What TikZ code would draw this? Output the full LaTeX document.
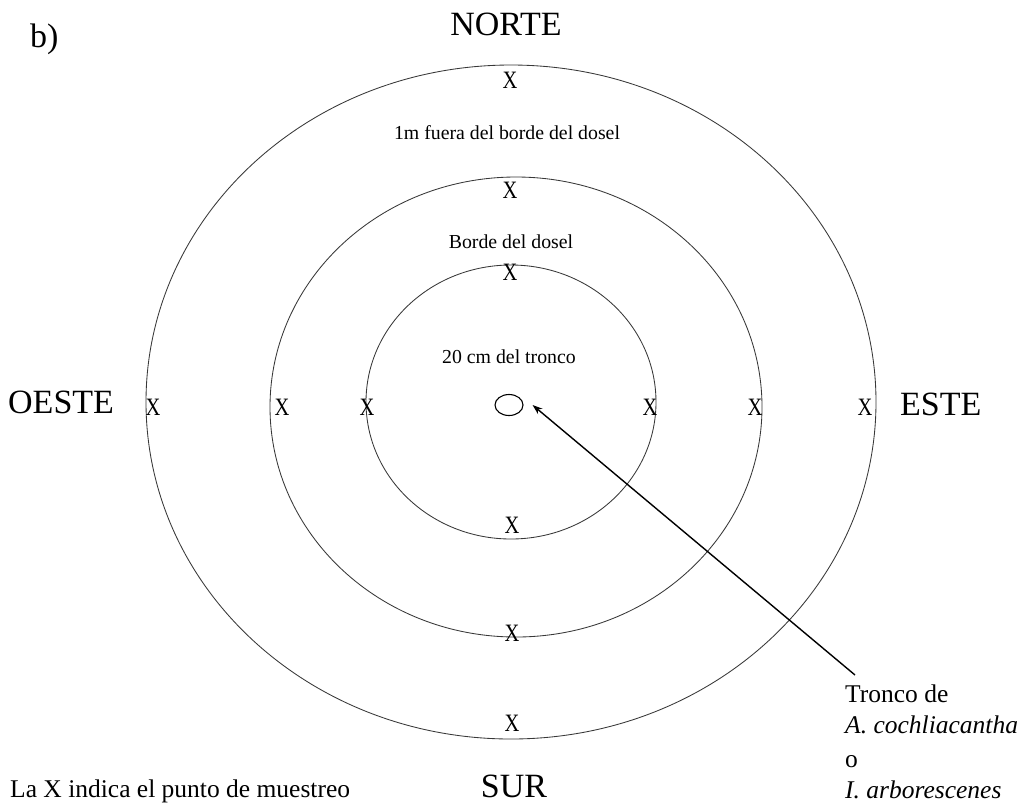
\documentclass[tikz,border=0pt]{standalone}
\usepackage{fontspec}
\usepackage{graphicx}
\setmainfont{Liberation Serif}
\usetikzlibrary{arrows.meta,shapes.geometric}
\newcommand{\xmk}{\scalebox{0.82}[1]{X}}
\begin{document}
\begin{tikzpicture}[x=1pt,y=-1pt,
  big/.style={font=\fontsize{34}{38}\selectfont, inner sep=0pt},
  small/.style={font=\fontsize{19.8}{22}\selectfont, inner sep=0pt},
  note/.style={font=\fontsize{25.5}{30}\selectfont, inner sep=0pt, anchor=base west},
  xm/.style={font=\fontsize{25}{28}\selectfont, inner sep=0pt},
  ring/.style={draw=black!78, line width=0.85pt}]
\useasboundingbox (0,0) rectangle (1025,807);
\fill[white] (0,0) rectangle (1025,807);
% rings
\coordinate (c1) at (511,402);
\coordinate (c2) at (516,407);
\coordinate (c3) at (511,402);
\draw[ring] (c1) ellipse [x radius=365, y radius=337];
\draw[ring] (c2) ellipse [x radius=246, y radius=230];
\draw[ring] (c3) ellipse [x radius=145, y radius=137];
% trunk
\node[ellipse, draw, line width=1.1pt, minimum width=28pt, minimum height=21pt, inner sep=0pt] (tronco) at (509,405) {};
% titles
\node[big, anchor=base west] (b) at (30,47) {b)};
\node[big, anchor=base] (n) at (506,35) {NORTE};
\node[big, anchor=base west] (w) at (8,413) {OESTE};
\node[big, anchor=base west] (e) at (900,415) {ESTE};
\node[big, anchor=base] (s) at (514,797) {SUR};
% labels
\node[small] (l1) at (507,133) {1m fuera del borde del dosel};
\node[small] (l2) at (511,242) {Borde del dosel};
\node[small] (l3) at (509,357) {20 cm del tronco};
\node[note] (leg) at (10,797) {La X indica el punto de muestreo};
\node[note] (t1) at (845,702) {Tronco de};
\node[note] (t2) at (845,733) {\textit{A. cochliacantha}};
\node[note] (t3) at (845,767) {o};
\node[note] (t4) at (845,798) {\textit{I. arborescenes}};
% sample points
\node[xm] (xn1) at (510,80) {\xmk};
\node[xm] (xn2) at (510,190) {\xmk};
\node[xm] (xn3) at (510,272) {\xmk};
\node[xm] (xs1) at (512,525) {\xmk};
\node[xm] (xs2) at (512,633) {\xmk};
\node[xm] (xs3) at (512,723) {\xmk};
\node[xm] (xw1) at (153,407) {\xmk};
\node[xm] (xw2) at (282,407) {\xmk};
\node[xm] (xw3) at (367,407) {\xmk};
\node[xm] (xe1) at (650,407) {\xmk};
\node[xm] (xe2) at (755,407) {\xmk};
\node[xm] (xe3) at (865,407) {\xmk};
% arrow
\coordinate (a0) at (855,675);
\draw[line width=1.4pt, -{Stealth[length=10pt,width=7pt]}] (a0) -- ([xshift=9pt]tronco.east);
\end{tikzpicture}
\end{document}
